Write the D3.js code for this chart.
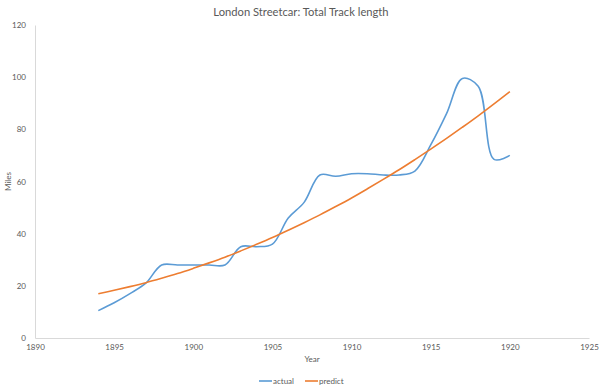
<!DOCTYPE html>
<html>
<head>
<meta charset="utf-8">
<script src="https://cdn.jsdelivr.net/npm/d3@7"></script>
<style>
  body { margin: 0; background: #fff; }
  text { font-family: Lato, "Open Sans", sans-serif; fill: #595959; }
</style>
</head>
<body>
<div id="chart"></div>
<script>
// values
var years = d3.range(1894, 1921);
var actual = [10.5, 13.5, 17, 21, 28, 28, 28, 28, 28, 35, 35, 36, 46, 52, 62.5, 62, 63, 63, 62.5, 62.5, 64, 74, 86, 99.5, 96.5, 68.5, 70];
var predict = [17.0, 18.3, 19.7, 21.2, 22.9, 24.7, 26.7, 28.8, 31.0, 33.4, 35.9, 38.5, 41.3, 44.2, 47.2, 50.4, 53.7, 57.2, 60.8, 64.5, 68.4, 72.4, 76.5, 80.8, 85.2, 89.8, 94.5];
var xTicks = [1890, 1895, 1900, 1905, 1910, 1915, 1920, 1925];
var yTicks = [0, 20, 40, 60, 80, 100, 120];

var width = 600, height = 392;
var margin = {top: 25, right: 11, bottom: 54, left: 35};

var svg = d3.select("#chart").append("svg")
    .attr("width", width)
    .attr("height", height);

var x = d3.scaleLinear()
    .domain([1890, 1925])
    .range([margin.left, width - margin.right]);

var y = d3.scaleLinear()
    .domain([0, 120])
    .range([height - margin.bottom, margin.top]);

svg.append("text")
    .attr("x", 301)
    .attr("y", 16)
    .attr("text-anchor", "middle")
    .attr("font-size", 11.2)
    .text("London Streetcar: Total Track length");

// y axis
var yAxis = svg.append("g")
    .attr("transform", "translate(" + margin.left + ",0)")
    .call(d3.axisLeft(y).tickValues(yTicks).tickSize(0).tickPadding(9));
yAxis.select(".domain").attr("stroke", "#d9d9d9");
yAxis.selectAll("text").attr("font-size", 8).attr("fill", "#595959").style("font-family", "Lato, sans-serif");

// x axis
var xAxis = svg.append("g")
    .attr("transform", "translate(0," + (height - margin.bottom) + ")")
    .call(d3.axisBottom(x).tickValues(xTicks).tickFormat(d3.format("d")).tickSize(0).tickPadding(6));
xAxis.select(".domain").attr("stroke", "#d9d9d9");
xAxis.selectAll("text").attr("font-size", 8).attr("fill", "#595959").style("font-family", "Lato, sans-serif");

svg.append("text")
    .attr("transform", "translate(11," + ((margin.top + height - margin.bottom) / 2) + ") rotate(-90)")
    .attr("text-anchor", "middle")
    .attr("font-size", 8)
    .text("Miles");

svg.append("text")
    .attr("x", (margin.left + width - margin.right) / 2)
    .attr("y", 362)
    .attr("text-anchor", "middle")
    .attr("font-size", 8)
    .text("Year");

var line = d3.line()
    .x(function(d) { return x(d[0]); })
    .y(function(d) { return y(d[1]); })
    .curve(d3.curveCatmullRom.alpha(0.5));

var series = [
  {name: "actual", values: actual, color: "#5b9bd5"},
  {name: "predict", values: predict, color: "#ed7d31"}
];

svg.selectAll(".series")
    .data(series)
    .enter().append("path")
    .attr("class", "series")
    .attr("fill", "none")
    .attr("stroke", function(d) { return d.color; })
    .attr("stroke-width", 1.6)
    .attr("d", function(d) { return line(years.map(function(yr, i) { return [yr, d.values[i]]; })); });

// legend
var legend = svg.append("g").attr("transform", "translate(259,381)");
var lg = legend.selectAll("g")
    .data(series)
    .enter().append("g")
    .attr("transform", function(d, i) { return "translate(" + (i * 46) + ",0)"; });
lg.append("line")
    .attr("x1", 0).attr("x2", 13)
    .attr("stroke", function(d) { return d.color; })
    .attr("stroke-width", 1.6);
lg.append("text")
    .attr("x", 14)
    .attr("y", 3)
    .attr("font-size", 8)
    .text(function(d) { return d.name; });
</script>
</body>
</html>
